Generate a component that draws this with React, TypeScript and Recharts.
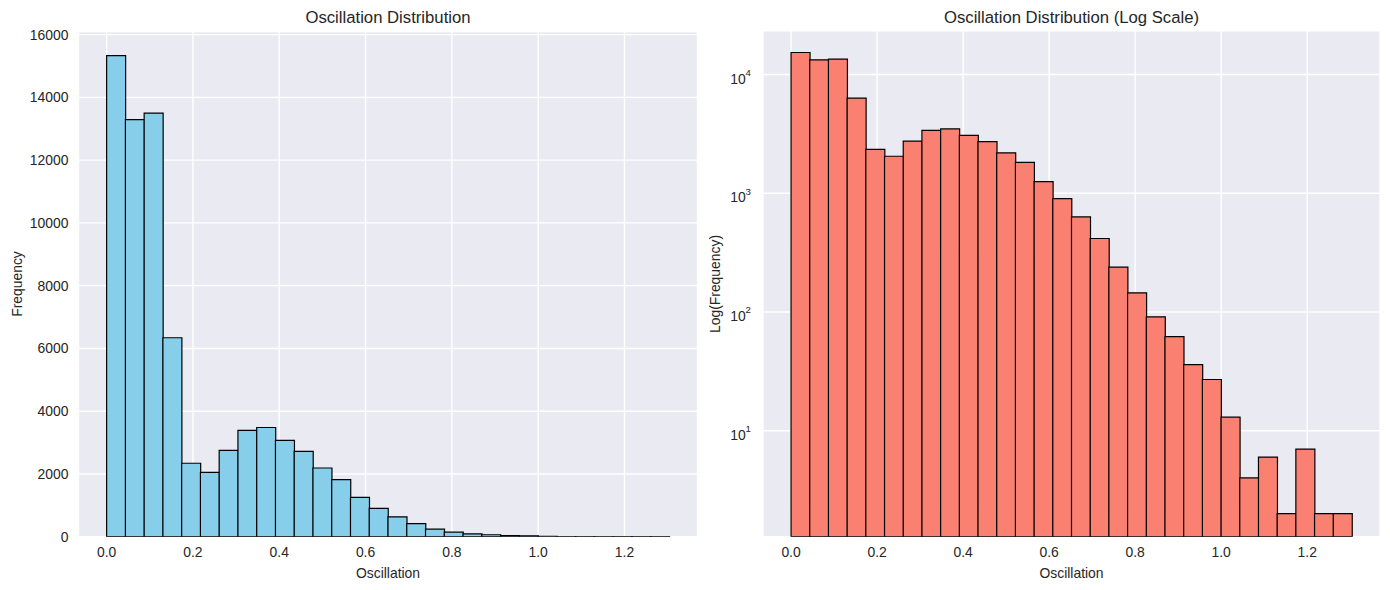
import React from "react";
import { BarChart, Bar, XAxis, YAxis, CartesianGrid } from "recharts";

// histogram: 30 equal bins between binLow and binHigh
const binLow = 0;
const binHigh = 1.304;
const counts = [
  15330, 13290, 13500, 6340, 2340, 2050, 2750, 3390, 3480, 3070,
  2720, 2190, 1820, 1255, 900, 632, 416, 239, 145, 91,
  62, 36, 27, 13, 4, 6, 2, 7, 2, 2,
];
const xTicks = [0, 0.2, 0.4, 0.6, 0.8, 1.0, 1.2];
const linearTicks = [0, 2000, 4000, 6000, 8000, 10000, 12000, 14000, 16000];
const logTicks = [10, 100, 1000, 10000];

const binWidth = (binHigh - binLow) / counts.length;
const data = counts.map((count, i) => ({ x: binLow + (i + 0.5) * binWidth, count }));

const FONT = '"Liberation Sans", Arial, sans-serif';
const TEXT = "#262626";
const BG = "#EAEAF2";
const xDomain = [-0.0652, 1.3692];

const tickStyle = { fill: TEXT, fontSize: 13.9, fontFamily: FONT };

const LogTick = (props: any) => {
  const { x, y, payload } = props;
  const exp = Math.round(Math.log10(payload.value));
  return (
    <text x={x} y={y + 9} textAnchor="end" fill={TEXT} fontSize={13.9} fontFamily={FONT}>
      10
      <tspan dy={-7.5} fontSize={9.7}>
        {exp}
      </tspan>
    </text>
  );
};

export default function App() {
  return (
    <div style={{ position: "absolute", left: 0, top: 0, width: 1390, height: 590, background: "#fff" }}>
      <div style={{ position: "absolute", left: 0, top: 0 }}>
        <BarChart
          width={700}
          height={590}
          data={data}
          barCategoryGap={0}
          barGap={0}
          margin={{ top: 31.5, right: 2.5, bottom: 23.3, left: 0 }}
        >
          <CartesianGrid fill={BG} fillOpacity={1} stroke="#fff" strokeWidth={1.4} />
          <XAxis
            dataKey="x"
            type="number"
            domain={xDomain}
            ticks={xTicks}
            interval={0}
            allowDataOverflow
            height={30}
            tickLine={false}
            axisLine={false}
            tickSize={8}
            tickMargin={2}
            tick={tickStyle}
            tickFormatter={(v) => v.toFixed(1)}
          />
          <YAxis
            type="number"
            domain={[0, 16100]}
            ticks={linearTicks}
            interval={0}
            allowDataOverflow
            width={78.5}
            tickLine={false}
            axisLine={false}
            tickSize={8}
            tickMargin={2}
            tick={tickStyle}
          />
          <Bar dataKey="count" fill="#87CEEB" stroke="#000" strokeWidth={1.2} isAnimationActive={false} />
        </BarChart>
      </div>
      <div style={{ position: "absolute", left: 690, top: 0 }}>
        <BarChart
          width={700}
          height={590}
          data={data}
          barCategoryGap={0}
          barGap={0}
          margin={{ top: 30.7, right: 10, bottom: 23.3, left: 0 }}
        >
          <CartesianGrid fill={BG} fillOpacity={1} stroke="#fff" strokeWidth={1.4} />
          <XAxis
            dataKey="x"
            type="number"
            domain={xDomain}
            ticks={xTicks}
            interval={0}
            allowDataOverflow
            height={30}
            tickLine={false}
            axisLine={false}
            tickSize={8}
            tickMargin={2}
            tick={tickStyle}
            tickFormatter={(v) => v.toFixed(1)}
          />
          <YAxis
            type="number"
            scale="log"
            domain={[1.28, 23400]}
            ticks={logTicks}
            interval={0}
            allowDataOverflow
            width={73}
            tickLine={false}
            axisLine={false}
            tickSize={8}
            tickMargin={4}
            tick={<LogTick />}
          />
          <Bar dataKey="count" fill="#FA8072" stroke="#000" strokeWidth={1.2} isAnimationActive={false} />
        </BarChart>
      </div>
      <svg
        width={1390}
        height={590}
        style={{ position: "absolute", left: 0, top: 0, pointerEvents: "none" }}
        fontFamily={FONT}
        fill={TEXT}
      >
        <text x={388} y={22.5} textAnchor="middle" fontSize={16.7}>
          Oscillation Distribution
        </text>
        <text x={1071.5} y={22.5} textAnchor="middle" fontSize={16.7}>
          Oscillation Distribution (Log Scale)
        </text>
        <text x={388} y={578} textAnchor="middle" fontSize={13.9}>
          Oscillation
        </text>
        <text x={1071.5} y={578} textAnchor="middle" fontSize={13.9}>
          Oscillation
        </text>
        <text x={21.5} y={284} textAnchor="middle" fontSize={13.9} transform="rotate(-90, 21.5, 284)">
          Frequency
        </text>
        <text x={720} y={284} textAnchor="middle" fontSize={13.9} transform="rotate(-90, 720, 284)">
          Log(Frequency)
        </text>
      </svg>
    </div>
  );
}
